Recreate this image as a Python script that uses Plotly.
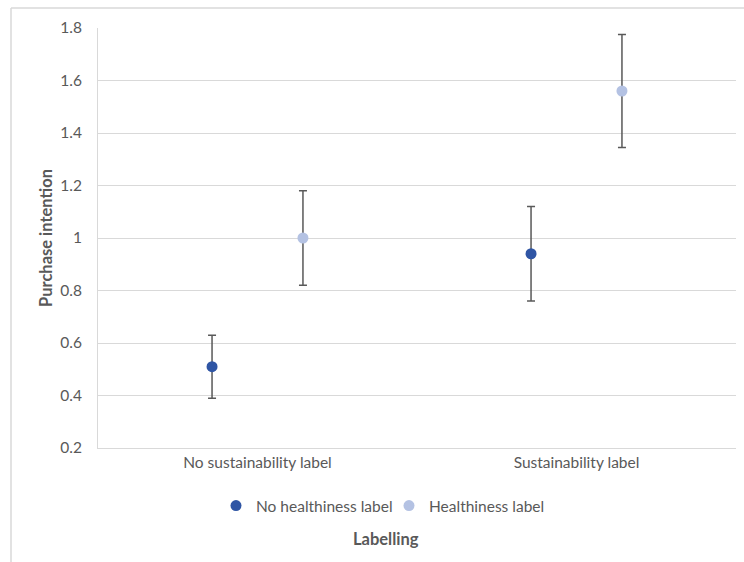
import plotly.graph_objects as go

# Purchase intention by labelling condition (means with error bars)
categories = ["No sustainability label", "Sustainability label"]
series_names = ["No healthiness label", "Healthiness label"]
means = {
    "No healthiness label": [0.51, 0.94],
    "Healthiness label": [1.00, 1.56],
}
errors = {
    "No healthiness label": [0.12, 0.18],
    "Healthiness label": [0.18, 0.215],
}
colors = {
    "No healthiness label": "#2F55A4",
    "Healthiness label": "#B4C2E3",
}
y_ticks = [0.2, 0.4, 0.6, 0.8, 1.0, 1.2, 1.4, 1.6, 1.8]
y_ticktext = ["0.2", "0.4", "0.6", "0.8", "1", "1.2", "1.4", "1.6", "1.8"]

FONT = "Lato, Calibri, sans-serif"
GRAY_TEXT = "#595959"
GRID = "#D9D9D9"
TICK_SIZE = 15.5
TITLE_SIZE = 16.5

W, H = 744, 562
ml, mr, mt, mb = 98, 8, 28, 114
pw, ph = W - ml - mr, H - mt - mb

fig = go.Figure()
for name in series_names:
    fig.add_trace(go.Scatter(
        x=categories,
        y=means[name],
        name=name,
        mode="markers",
        offsetgroup=name,
        marker=dict(color=colors[name], size=11, line=dict(width=0)),
        error_y=dict(type="data", array=errors[name], visible=True,
                     color="#595959", thickness=1.5, width=4),
    ))

fig.update_layout(
    width=W, height=H,
    margin=dict(l=ml, r=mr, t=mt, b=mb),
    paper_bgcolor="white", plot_bgcolor="white",
    scattermode="group", scattergap=0.43,
    font=dict(family=FONT, size=TICK_SIZE, color=GRAY_TEXT),
    showlegend=True,
    legend=dict(orientation="h", x=(216 - ml) / pw, xanchor="left",
                y=-(506 - mt - ph) / ph, yanchor="middle",
                font=dict(size=TICK_SIZE, color=GRAY_TEXT), itemwidth=30,
                entrywidth=128, traceorder="normal"),
    xaxis=dict(showgrid=False, showline=True, linecolor=GRID, linewidth=1,
               ticks="", tickfont=dict(size=TICK_SIZE, color=GRAY_TEXT),
               range=[-0.5, 1.5], fixedrange=True),
    yaxis=dict(range=[0.2, 1.8], tickvals=y_ticks, ticktext=y_ticktext,
               showgrid=True, gridcolor=GRID, gridwidth=1,
               showline=True, linecolor=GRID, linewidth=1,
               zeroline=False, ticks="", ticklabelstandoff=12,
               tickfont=dict(size=TICK_SIZE, color=GRAY_TEXT)),
)

# Axis titles
fig.add_annotation(text="<b>Purchase intention</b>", textangle=-90,
                   xref="paper", yref="paper",
                   x=(46 - ml) / pw, y=1 - (238 - mt) / ph,
                   xanchor="center", yanchor="middle",
                   showarrow=False, font=dict(size=TITLE_SIZE, color=GRAY_TEXT))
fig.add_annotation(text="<b>Labelling</b>",
                   xref="paper", yref="paper",
                   x=(386 - ml) / pw, y=-(539 - mt - ph) / ph,
                   xanchor="center", yanchor="middle",
                   showarrow=False, font=dict(size=TITLE_SIZE, color=GRAY_TEXT))

# Chart frame
fx0 = (11 - ml) / pw
fy0 = 1 + (mt - 8) / ph
fig.add_shape(type="line", xref="paper", yref="paper",
              x0=fx0, x1=(W + 5 - ml) / pw, y0=fy0, y1=fy0,
              line=dict(color=GRID, width=1.5))
fig.add_shape(type="line", xref="paper", yref="paper",
              x0=fx0, x1=fx0, y0=fy0, y1=-(H + 5 - mt - ph) / ph,
              line=dict(color=GRID, width=1.5))

fig.write_html("out.html")
